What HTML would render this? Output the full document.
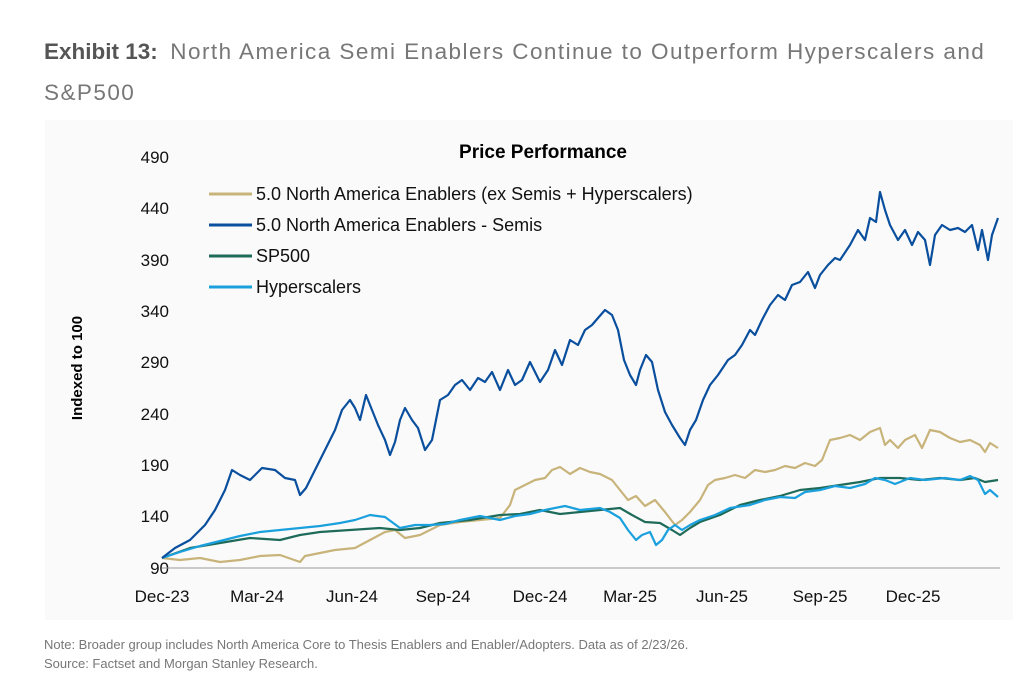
<!DOCTYPE html><html><head><style>
body{margin:0;width:1024px;height:691px;background:#fff;overflow:hidden;font-family:"Liberation Sans",sans-serif}
.t{position:absolute;left:44px;top:31px;font-size:22.5px;color:#777;line-height:41px;width:980px}
.t b{color:#555}
.t span{letter-spacing:1.45px}
.n{position:absolute;left:44px;font-size:13px;color:#777}
</style></head><body>
<div class="t"><b>Exhibit 13:</b>&nbsp; <span>North America Semi Enablers Continue to Outperform Hyperscalers and<br>S&amp;P500</span></div>
<svg style="position:absolute;left:0;top:0" width="1024" height="691">
<rect x="45" y="120" width="968" height="500" fill="#fafafa"/>
<g font-size="17" fill="#111" text-anchor="end">
<text x="169" y="163">490</text><text x="169" y="214">440</text><text x="169" y="266">390</text><text x="169" y="317">340</text><text x="169" y="368">290</text><text x="169" y="420">240</text><text x="169" y="471">190</text><text x="169" y="522">140</text><text x="169" y="574">90</text></g>
<line x1="162" y1="568" x2="1000" y2="568" stroke="#999"/>
<g font-size="17" fill="#111" text-anchor="middle">
<text x="162" y="602">Dec-23</text><text x="257" y="602">Mar-24</text><text x="352" y="602">Jun-24</text><text x="443" y="602">Sep-24</text><text x="540" y="602">Dec-24</text><text x="630" y="602">Mar-25</text><text x="722" y="602">Jun-25</text><text x="820" y="602">Sep-25</text><text x="913" y="602">Dec-25</text></g>
<text transform="translate(82,368) rotate(-90)" font-size="15" font-weight="bold" text-anchor="middle">Indexed to 100</text>
<text x="543" y="158" font-size="19" font-weight="bold" text-anchor="middle">Price Performance</text>
<g font-size="18" fill="#111">
<line x1="209" y1="194" x2="252" y2="194" stroke="#c8b47a" stroke-width="3"/><text x="256" y="200">5.0 North America Enablers (ex Semis + Hyperscalers)</text>
<line x1="209" y1="225" x2="252" y2="225" stroke="#0a4f9e" stroke-width="3"/><text x="256" y="231">5.0 North America Enablers - Semis</text>
<line x1="209" y1="256" x2="252" y2="256" stroke="#1f6b5a" stroke-width="3"/><text x="256" y="262">SP500</text>
<line x1="209" y1="287" x2="252" y2="287" stroke="#1ba0de" stroke-width="3"/><text x="256" y="293">Hyperscalers</text></g>
<g fill="none" stroke-width="2.2" stroke-linejoin="round">
<polyline stroke="#c8b47a" points="162,558 180,560 200,558 220,562 240,560 260,556 280,555 300,562 305,556 320,553 335,550 355,548 370,540 385,532 395,530 405,538 420,535 440,525 460,522 480,520 500,518 510,505 515,490 525,485 535,480 545,478 552,470 560,467 570,474 580,468 590,472 600,474 612,480 620,490 628,500 636,496 645,506 655,500 665,512 675,525 682,520 690,512 700,500 708,485 715,480 725,478 735,475 745,478 755,470 765,472 775,470 785,466 795,468 805,463 815,466 822,460 830,440 840,438 850,435 860,440 870,432 880,428 885,445 890,440 898,448 905,440 915,435 922,448 930,430 940,432 950,438 960,442 970,440 980,445 985,452 990,443 998,448"/>
<polyline stroke="#1f6b5a" points="162,558 190,548 220,543 250,538 280,540 300,535 320,532 350,530 380,528 400,530 420,528 440,523 470,520 500,515 520,514 540,510 560,514 580,512 600,510 620,508 632,515 645,522 660,523 672,530 680,535 690,528 700,522 720,515 740,505 760,500 780,496 800,490 820,488 840,485 860,482 880,478 900,478 920,480 940,478 960,480 975,478 985,482 998,480"/>
<polyline stroke="#1ba0de" points="162,558 180,552 200,546 220,541 240,536 260,532 280,530 300,528 320,526 340,523 355,520 370,515 385,517 400,528 415,525 430,525 445,524 460,520 480,516 500,520 515,516 530,514 545,510 565,506 580,510 600,508 610,512 620,518 628,530 636,540 642,535 650,532 656,545 662,540 668,530 675,525 682,530 690,525 700,520 715,515 730,508 750,505 765,500 780,497 795,498 805,492 820,490 835,486 850,488 865,484 875,478 885,480 895,484 910,478 925,480 945,478 960,480 970,476 978,480 985,494 990,490 998,497"/>
<polyline stroke="#0a4f9e" points="162,558 175,548 190,540 205,525 215,510 225,490 232,470 240,475 250,480 262,468 275,470 285,478 295,480 300,495 306,488 315,470 325,450 335,430 342,410 350,400 355,408 360,420 366,395 372,410 378,425 385,440 390,455 395,442 400,420 405,408 412,420 418,428 425,450 432,440 440,400 448,395 455,385 462,380 470,390 478,378 485,382 492,372 500,390 508,370 515,385 522,380 530,362 540,382 548,370 555,350 562,365 570,340 578,345 585,330 592,325 598,318 605,310 612,315 618,330 624,360 630,375 636,385 640,370 646,355 652,362 658,390 665,412 672,425 680,438 685,445 690,430 696,420 703,400 710,385 718,375 728,360 735,355 742,345 750,330 755,335 762,320 770,305 778,295 785,300 792,285 800,282 808,272 815,288 820,275 828,265 835,258 840,260 850,245 858,230 865,240 870,218 876,222 880,192 885,210 890,225 898,240 905,230 912,245 918,232 925,240 930,265 935,235 942,225 950,230 958,228 965,232 972,225 978,250 982,230 988,260 992,235 998,218"/>
</g></svg>
<div class="n" style="top:637px">Note: Broader group includes North America Core to Thesis Enablers and Enabler/Adopters. Data as of 2/23/26.</div>
<div class="n" style="top:656px">Source: Factset and Morgan Stanley Research.</div>
</body></html>
